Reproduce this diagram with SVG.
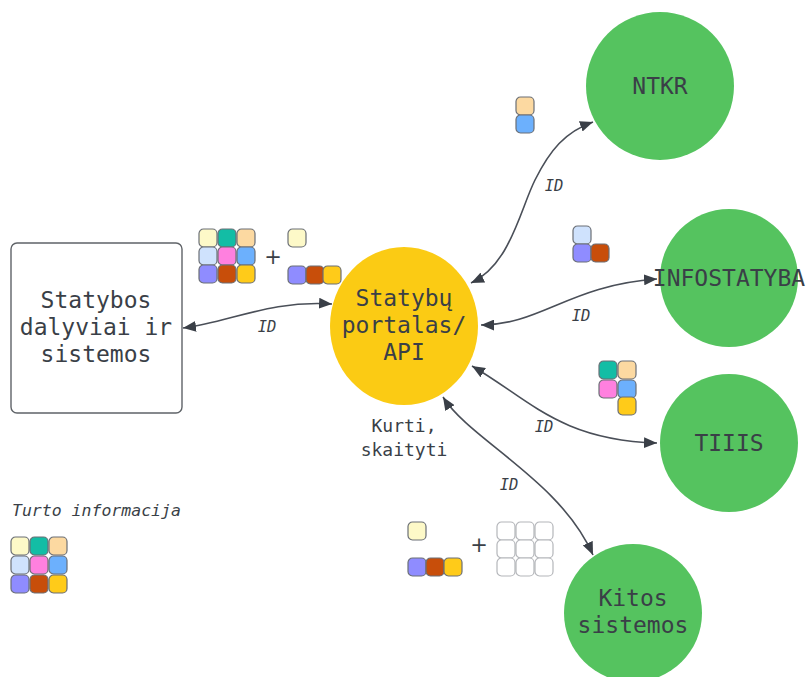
<svg xmlns="http://www.w3.org/2000/svg" width="806" height="677" viewBox="0 0 806 677">
<defs>
<style>
.txt{font-family:"DejaVu Sans Mono","Liberation Mono",monospace;font-size:23px;fill:#3a3f47;text-anchor:middle}
.lbl{font-family:"DejaVu Sans Mono","Liberation Mono",monospace;font-size:15.5px;font-style:italic;fill:#3a3f47;text-anchor:middle}
.green{fill:#55c35f}
.conn{fill:none;stroke:#4a4f58;stroke-width:1.6;marker-start:url(#ah);marker-end:url(#ah)}
.t{stroke:#6b6f76;stroke-width:1.2}
.e{fill:#fff;stroke:#b4b6ba;stroke-width:1.2}
.c1{fill:#fdf9c8}.c2{fill:#13bda5}.c3{fill:#fcd9a1}
.c4{fill:#cfe2fd}.c5{fill:#ff80df}.c6{fill:#6cb0fd}
.c7{fill:#8f8cff}.c8{fill:#c84e0a}.c9{fill:#ffcb19}
.plus{font-family:"DejaVu Sans","Liberation Sans",sans-serif;font-size:21px;fill:#3a3f47;text-anchor:middle}
</style>
<marker id="ah" viewBox="0 0 12 10" refX="12" refY="5" markerWidth="13" markerHeight="11" markerUnits="userSpaceOnUse" orient="auto-start-reverse">
<path d="M0,0 L12,5 L0,10 z" fill="#3a3f47"/>
</marker>
<rect id="tile" width="18" height="18" rx="4.5"/>
</defs>
<rect width="806" height="677" fill="#fff"/>

<g id="connectors">
<path class="conn" d="M 183 328 C 230 322, 270 300, 332 304"/>
<path class="conn" d="M 471 283 C 510 265, 520 210, 535 180 C 550 150, 565 132, 593 122"/>
<path class="conn" d="M 481 325 C 540 325, 570 285, 657 279"/>
<path class="conn" d="M 472 366 C 530 400, 560 440, 657 443"/>
<path class="conn" d="M 443 397 C 470 440, 560 480, 593 555"/>
<text class="lbl" x="267" y="332">ID</text>
<text class="lbl" x="554" y="191">ID</text>
<text class="lbl" x="581" y="321">ID</text>
<text class="lbl" x="544" y="432">ID</text>
<text class="lbl" x="509" y="490">ID</text>
</g>

<g id="node-dalyviai">
<rect x="11" y="243" width="171" height="170" rx="6" fill="#fff" stroke="#5f6368" stroke-width="1.4"/>
<text class="txt" x="96" y="308">Statybos</text>
<text class="txt" x="96" y="335">dalyviai ir</text>
<text class="txt" x="96" y="362">sistemos</text>
</g>

<g id="node-portalas">
<ellipse cx="404" cy="326" rx="74" ry="79" fill="#fbcb14"/>
<text class="txt" x="404" y="306">Statybų</text>
<text class="txt" x="404" y="333">portalas/</text>
<text class="txt" x="404" y="360">API</text>
<text class="txt" x="404" y="432" style="font-size:18px">Kurti,</text>
<text class="txt" x="404" y="456" style="font-size:18px">skaityti</text>
</g>

<g id="node-ntkr">
<circle class="green" cx="660" cy="86" r="74"/>
<text class="txt" x="660" y="94">NTKR</text>
</g>

<g id="node-infostatyba">
<circle class="green" cx="729" cy="278" r="69"/>
<text class="txt" x="729" y="286">INFOSTATYBA</text>
</g>

<g id="node-tiiis">
<circle class="green" cx="729" cy="443" r="69"/>
<text class="txt" x="729" y="451">TIIIS</text>
</g>

<g id="node-kitos">
<circle class="green" cx="633" cy="613" r="69"/>
<text class="txt" x="633" y="606">Kitos</text>
<text class="txt" x="633" y="633">sistemos</text>
</g>

<g id="tiles-left">
<use href="#tile" class="t c1" x="199" y="229"/>
<use href="#tile" class="t c2" x="218" y="229"/>
<use href="#tile" class="t c3" x="237" y="229"/>
<use href="#tile" class="t c4" x="199" y="247"/>
<use href="#tile" class="t c5" x="218" y="247"/>
<use href="#tile" class="t c6" x="237" y="247"/>
<use href="#tile" class="t c7" x="199" y="265"/>
<use href="#tile" class="t c8" x="218" y="265"/>
<use href="#tile" class="t c9" x="237" y="265"/>
<text class="plus" x="273" y="264">+</text>
<use href="#tile" class="t c1" x="288" y="229"/>
<use href="#tile" class="t c7" x="288" y="266"/>
<use href="#tile" class="t c8" x="306" y="266"/>
<use href="#tile" class="t c9" x="323" y="266"/>
</g>

<g id="tiles-ntkr">
<use href="#tile" class="t c3" x="516" y="97"/>
<use href="#tile" class="t c6" x="516" y="115"/>
</g>

<g id="tiles-infostatyba">
<use href="#tile" class="t c4" x="573" y="226"/>
<use href="#tile" class="t c7" x="573" y="244"/>
<use href="#tile" class="t c8" x="591" y="244"/>
</g>

<g id="tiles-tiiis">
<use href="#tile" class="t c2" x="599" y="361"/>
<use href="#tile" class="t c3" x="618" y="361"/>
<use href="#tile" class="t c5" x="599" y="380"/>
<use href="#tile" class="t c6" x="618" y="380"/>
<use href="#tile" class="t c9" x="618" y="397"/>
</g>

<g id="tiles-kitos">
<use href="#tile" class="t c1" x="408" y="522"/>
<use href="#tile" class="t c7" x="408" y="558"/>
<use href="#tile" class="t c8" x="426" y="558"/>
<use href="#tile" class="t c9" x="444" y="558"/>
<text class="plus" x="479" y="552">+</text>
<use href="#tile" class="e" x="497" y="522"/>
<use href="#tile" class="e" x="516" y="522"/>
<use href="#tile" class="e" x="535" y="522"/>
<use href="#tile" class="e" x="497" y="540"/>
<use href="#tile" class="e" x="516" y="540"/>
<use href="#tile" class="e" x="535" y="540"/>
<use href="#tile" class="e" x="497" y="558"/>
<use href="#tile" class="e" x="516" y="558"/>
<use href="#tile" class="e" x="535" y="558"/>
</g>

<g id="legend">
<text class="lbl" x="12" y="516" style="text-anchor:start;font-size:16.5px">Turto informacija</text>
<use href="#tile" class="t c1" x="11" y="537"/>
<use href="#tile" class="t c2" x="30" y="537"/>
<use href="#tile" class="t c3" x="49" y="537"/>
<use href="#tile" class="t c4" x="11" y="556"/>
<use href="#tile" class="t c5" x="30" y="556"/>
<use href="#tile" class="t c6" x="49" y="556"/>
<use href="#tile" class="t c7" x="11" y="575"/>
<use href="#tile" class="t c8" x="30" y="575"/>
<use href="#tile" class="t c9" x="49" y="575"/>
</g>
</svg>
